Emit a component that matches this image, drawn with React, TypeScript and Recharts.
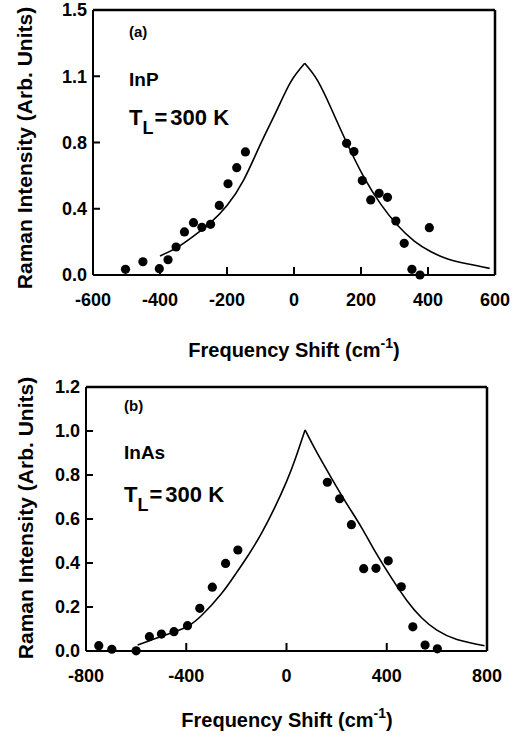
import React from 'react';
import { ComposedChart, Scatter, Line, XAxis, YAxis } from 'recharts';

const FONT = '"Liberation Sans", Arial, Helvetica, sans-serif';

// (a) InP, measured points
const inpShift = [-503, -451, -402, -376, -352, -327, -300, -275, -249, -223, -197, -171, -145, 157, 179, 204, 229, 254, 279, 304, 329, 352, 376, 404];
const inpIntensity = [0.034, 0.08, 0.038, 0.092, 0.169, 0.26, 0.316, 0.288, 0.306, 0.42, 0.551, 0.648, 0.743, 0.795, 0.745, 0.57, 0.453, 0.493, 0.469, 0.326, 0.191, 0.034, 0.0, 0.286];

// (a) InP, calculated line (two branches meeting at the peak)
const inpFitLeftShift = [-400, -350, -300, -250, -200, -150, -100, -50, -10, 32];
const inpFitLeftIntensity = [0.115, 0.165, 0.235, 0.315, 0.42, 0.575, 0.79, 1.0, 1.165, 1.278];
const inpFitRightShift = [32, 70, 110, 157, 209, 260, 309, 359, 409, 459, 520, 584];
const inpFitRightIntensity = [1.278, 1.175, 1.01, 0.8, 0.59, 0.425, 0.3, 0.205, 0.14, 0.097, 0.066, 0.04];

const inpXTicks = [-600, -400, -200, 0, 200, 400, 600];
const inpYTicks = [0, 0.4, 0.8, 1.2, 1.6];
const inpYTickLabels = ['0.0', '0.4', '0.8', '1.1', '1.5'];

// (b) InAs, measured points
const inasShift = [-749, -697, -600, -547, -499, -449, -395, -346, -296, -243, -194, 163, 212, 259, 308, 357, 406, 458, 504, 553, 602];
const inasIntensity = [0.024, 0.008, 0.001, 0.065, 0.077, 0.088, 0.115, 0.194, 0.29, 0.398, 0.459, 0.767, 0.692, 0.574, 0.374, 0.376, 0.41, 0.292, 0.11, 0.027, 0.01];

// (b) InAs, calculated line
const inasFitLeftShift = [-594, -520, -440, -390, -340, -260, -200, -150, -100, -50, 0, 37, 74];
const inasFitLeftIntensity = [0.027, 0.058, 0.09, 0.115, 0.16, 0.26, 0.355, 0.44, 0.535, 0.645, 0.77, 0.88, 1.005];
const inasFitRightShift = [74, 120, 180, 240, 300, 360, 420, 480, 540, 600, 680, 790];
const inasFitRightIntensity = [1.005, 0.905, 0.785, 0.67, 0.56, 0.44, 0.33, 0.23, 0.15, 0.095, 0.052, 0.024];

const inasXTicks = [-800, -400, 0, 400, 800];
const inasYTicks = [0, 0.2, 0.4, 0.6, 0.8, 1.0, 1.2];
const inasYTickLabels = ['0.0', '0.2', '0.4', '0.6', '0.8', '1.0', '1.2'];

const zip = (xs: number[], ys: number[]) => xs.map((x, i) => ({ x, y: ys[i] }));

const X_TICK_LEN = 8;
const Y_TICK_LEN = 7;

// negative tickSize puts the tick marks inside the frame, tickMargin brings the label anchor back to the axis line
const XTick = (props: any) => {
  const { x, y, payload } = props;
  return (
    <text x={x} y={y + 31} textAnchor="middle" fontFamily={FONT} fontWeight="bold" fontSize={18} fill="#000">
      {payload.value}
    </text>
  );
};

const makeYTick = (ticks: number[], labels: string[]) => (props: any) => {
  const { x, y, payload } = props;
  const i = ticks.findIndex((t) => Math.abs(t - payload.value) < 1e-9);
  return (
    <text x={x - 6} y={y} dy="0.36em" textAnchor="end" fontFamily={FONT} fontWeight="bold" fontSize={18} fill="#000">
      {labels[i]}
    </text>
  );
};

const dot = (p: any) => <circle cx={p.cx} cy={p.cy} r={4.6} fill="#000" />;

const titleStyle = { fontFamily: FONT, fontWeight: 'bold' as const, fill: '#000' };

function Panel(props: any) {
  const { height, margin, xDomain, yDomain, xTicks, yTicks, yLabels, points, fitLeft, fitRight, children } = props;
  return (
    <ComposedChart width={531} height={height} margin={margin}>
      <XAxis
        type="number"
        dataKey="x"
        domain={xDomain}
        ticks={xTicks}
        interval={0}
        height={30}
        tickSize={-X_TICK_LEN}
        tickMargin={X_TICK_LEN}
        tickLine={{ stroke: '#000', strokeWidth: 2 }}
        axisLine={{ stroke: '#000', strokeWidth: 2 }}
        tick={XTick}
      />
      {/* top and right edges of the frame */}
      <XAxis xAxisId="top" orientation="top" type="number" domain={xDomain} height={1} tick={false} tickLine={false} axisLine={{ stroke: '#000', strokeWidth: 2.5 }} />
      <YAxis
        type="number"
        dataKey="y"
        domain={yDomain}
        ticks={yTicks}
        interval={0}
        width={60}
        tickSize={-Y_TICK_LEN}
        tickMargin={Y_TICK_LEN}
        tickLine={{ stroke: '#000', strokeWidth: 2 }}
        axisLine={{ stroke: '#000', strokeWidth: 2 }}
        tick={makeYTick(yTicks, yLabels)}
      />
      <YAxis yAxisId="right" orientation="right" type="number" domain={yDomain} width={1} tick={false} tickLine={false} axisLine={{ stroke: '#000', strokeWidth: 2.5 }} />
      <Line data={fitLeft} dataKey="y" type="natural" stroke="#000" strokeWidth={1.6} dot={false} isAnimationActive={false} />
      <Line data={fitRight} dataKey="y" type="natural" stroke="#000" strokeWidth={1.6} dot={false} isAnimationActive={false} />
      <Scatter data={points} dataKey="y" shape={dot} isAnimationActive={false} />
      {children}
    </ComposedChart>
  );
}

export default function App() {
  return (
    <div style={{ position: 'absolute', left: 0, top: 0, width: 531, height: 739, background: '#fff' }}>
      <div style={{ position: 'absolute', left: 0, top: 0 }}>
        <Panel
          height={370}
          margin={{ top: 9, right: 35, bottom: 65, left: 33 }}
          xDomain={[-600, 600]}
          yDomain={[0, 1.6]}
          xTicks={inpXTicks}
          yTicks={inpYTicks}
          yLabels={inpYTickLabels}
          points={zip(inpShift, inpIntensity)}
          fitLeft={zip(inpFitLeftShift, inpFitLeftIntensity)}
          fitRight={zip(inpFitRightShift, inpFitRightIntensity)}
        >
          <text x={129} y={37} fontSize={15} {...titleStyle}>(a)</text>
          <text x={129} y={86} fontSize={19} {...titleStyle}>InP</text>
          <text x={129} y={125} fontSize={22} {...titleStyle}>
            T<tspan fontSize={18} dy={9}>L</tspan>
            <tspan dy={-9} dx={1}>=</tspan>
            <tspan dx={3}>300 K</tspan>
          </text>
          <text x={294} y={357} textAnchor="middle" fontSize={20} {...titleStyle}>
            Frequency Shift (cm<tspan fontSize={14} dy={-9}>-1</tspan>
            <tspan dy={9}>)</tspan>
          </text>
          <text transform="translate(32,148) rotate(-90)" textAnchor="middle" fontSize={21} {...titleStyle}>
            Raman Intensity (Arb. Units)
          </text>
        </Panel>
      </div>
      <div style={{ position: 'absolute', left: 0, top: 360 }}>
        <Panel
          height={379}
          margin={{ top: 26, right: 43, bottom: 58, left: 26 }}
          xDomain={[-800, 800]}
          yDomain={[0, 1.2]}
          xTicks={inasXTicks}
          yTicks={inasYTicks}
          yLabels={inasYTickLabels}
          points={zip(inasShift, inasIntensity)}
          fitLeft={zip(inasFitLeftShift, inasFitLeftIntensity)}
          fitRight={zip(inasFitRightShift, inasFitRightIntensity)}
        >
          <text x={124} y={51} fontSize={15} {...titleStyle}>(b)</text>
          <text x={124} y={99} fontSize={19} {...titleStyle}>InAs</text>
          <text x={124} y={142} fontSize={22} {...titleStyle}>
            T<tspan fontSize={18} dy={9}>L</tspan>
            <tspan dy={-9} dx={1}>=</tspan>
            <tspan dx={3}>300 K</tspan>
          </text>
          <text x={287} y={367} textAnchor="middle" fontSize={20} {...titleStyle}>
            Frequency Shift (cm<tspan fontSize={14} dy={-9}>-1</tspan>
            <tspan dy={9}>)</tspan>
          </text>
          <text transform="translate(33,158) rotate(-90)" textAnchor="middle" fontSize={21} {...titleStyle}>
            Raman Intensity (Arb. Units)
          </text>
        </Panel>
      </div>
    </div>
  );
}
